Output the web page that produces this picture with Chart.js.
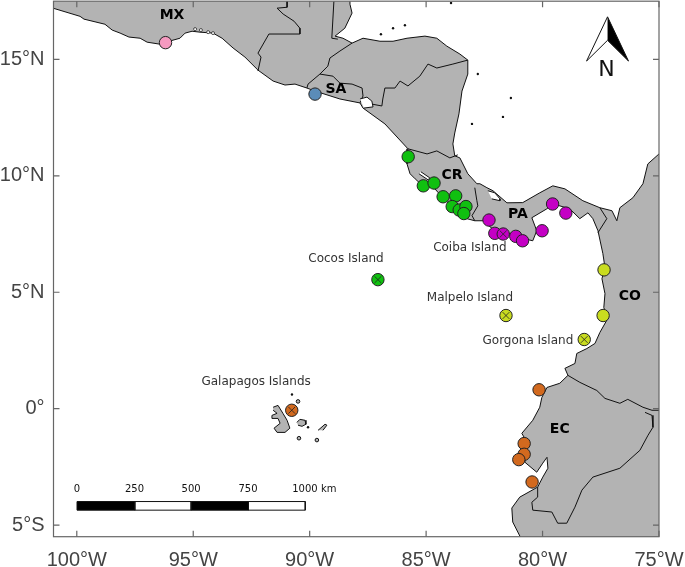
<!DOCTYPE html>
<html>
<head>
<meta charset="utf-8">
<style>
  html, body { margin: 0; padding: 0; background: #fff; overflow: hidden; }
  /* the layout keeps a strip above the y scale, push it out of the window */
  canvas { display: block; margin-top: -6px; }
</style>
<script src="https://cdn.jsdelivr.net/npm/chart.js@4"></script>
</head>
<body>
<canvas id="map" width="685" height="573"></canvas>
<script>
// tick positions and labels
const xTicks = [-100, -95, -90, -85, -80, -75];
const xLabels = ['100°W', '95°W', '90°W', '85°W', '80°W', '75°W'];
const yTicks = [-5, 0, 5, 10, 15];
const yLabels = ['5°S', '0°', '5°N', '10°N', '15°N'];

// sampling sites, [lon, lat]
const sitesMexico = [[-96.19, 15.72]];
const sitesSalvador = [[-89.77, 13.51]];
const sitesCostaRica = [[-85.77, 10.82], [-85.12, 9.57], [-84.66, 9.69], [-84.27, 9.10], [-83.73, 9.14], [-83.88, 8.68], [-83.58, 8.53], [-83.29, 8.68], [-83.38, 8.38], [-87.07, 5.54]];
const sitesPanama = [[-82.30, 8.10], [-82.05, 7.53], [-81.69, 7.50], [-81.15, 7.40], [-80.86, 7.21], [-80.02, 7.64], [-79.57, 8.79], [-79.00, 8.40]];
const sitesColombia = [[-77.36, 5.96], [-77.40, 4.00], [-81.57, 4.00], [-78.21, 2.97]];
const sitesEcuador = [[-80.15, 0.81], [-80.79, -1.50], [-80.79, -1.96], [-81.02, -2.19], [-80.45, -3.15], [-90.77, -0.07]];
// island sites get an x on top
const islandSites = [[-87.07, 5.54], [-81.69, 7.50], [-81.57, 4.00], [-78.21, 2.97], [-90.77, -0.07]];

// land outline, pacific coast then caribbean coast
const mainland = [[-101.15, 17.24], [-99.86, 16.85], [-99.69, 16.73], [-98.79, 16.51], [-98.48, 16.26], [-98.14, 16.13], [-97.76, 15.96], [-97.28, 15.91], [-96.98, 15.74], [-96.47, 15.66], [-95.57, 15.91], [-95.35, 16.13], [-95.05, 16.21], [-94.71, 16.17], [-94.15, 16.13], [-93.76, 15.91], [-93.29, 15.49], [-92.78, 15.10], [-92.22, 14.54], [-91.57, 14.07], [-91.06, 13.90], [-90.63, 13.94], [-90.12, 13.77], [-89.77, 13.64], [-88.70, 13.30], [-87.84, 13.13], [-87.71, 12.91], [-86.77, 12.23], [-85.78, 11.16], [-85.82, 10.51], [-85.69, 10.09], [-85.47, 9.87], [-85.14, 9.57], [-84.67, 9.49], [-84.28, 9.06], [-83.85, 8.63], [-83.25, 8.16], [-82.91, 8.07], [-82.56, 8.07], [-82.05, 7.64], [-81.53, 7.56], [-80.97, 7.34], [-80.42, 7.21], [-80.25, 7.64], [-80.46, 8.20], [-79.82, 8.58], [-79.56, 8.80], [-78.83, 8.58], [-78.40, 8.16], [-78.05, 8.41], [-77.84, 8.16], [-77.62, 7.64], [-77.41, 6.66], [-77.32, 6.06], [-77.45, 5.58], [-77.32, 4.94], [-77.37, 4.34], [-77.20, 3.87], [-77.54, 3.27], [-77.75, 2.80], [-78.10, 2.58], [-78.53, 2.37], [-78.61, 1.94], [-79.04, 1.73], [-78.91, 1.43], [-79.26, 1.09], [-79.81, 0.91], [-80.03, 0.48], [-80.12, 0.06], [-80.42, -0.50], [-80.89, -1.06], [-80.67, -1.44], [-80.76, -2.30], [-80.25, -2.73], [-79.99, -2.34], [-79.81, -2.09], [-79.77, -2.56], [-79.99, -2.94], [-80.21, -3.37], [-80.98, -3.80], [-81.32, -4.27], [-81.28, -4.87], [-80.89, -5.64], [-74.8, -5.7], [-74.8, 10.94], [-75.00, 10.94], [-75.48, 10.51], [-75.69, 9.66], [-76.12, 9.06], [-76.68, 8.63], [-76.81, 8.07], [-77.02, 8.50], [-77.54, 8.63], [-78.27, 8.93], [-79.04, 9.44], [-79.56, 9.57], [-80.12, 9.27], [-80.85, 8.85], [-81.53, 8.84], [-82.13, 9.36], [-82.39, 9.49], [-82.69, 9.66], [-82.82, 9.66], [-83.21, 10.09], [-83.55, 10.77], [-83.77, 10.86], [-83.85, 11.37], [-83.77, 11.84], [-83.59, 12.66], [-83.46, 13.64], [-83.21, 14.37], [-83.21, 14.97], [-83.55, 15.23], [-84.11, 15.57], [-84.54, 15.91], [-85.05, 16.00], [-85.82, 15.91], [-86.42, 15.78], [-86.98, 15.78], [-87.71, 15.91], [-88.18, 15.70], [-88.57, 15.91], [-88.91, 16.00], [-88.49, 16.34], [-88.18, 16.99], [-88.27, 17.37], [-88.27, 17.7], [-101.15, 17.7]];

// country borders
const borderMxGt = [[-90.97, 17.5], [-90.97, 17.24], [-91.40, 17.20], [-91.14, 16.95], [-90.67, 16.64], [-90.42, 16.34], [-90.42, 16.09], [-91.75, 16.09], [-92.22, 15.27], [-92.09, 15.10], [-92.22, 14.50]];
const borderBelize = [[-88.96, 17.5], [-89.05, 15.91], [-88.79, 15.87]];
const borderGtHn = [[-88.18, 15.70], [-88.70, 15.36], [-89.13, 15.06], [-89.22, 14.71], [-89.56, 14.37]];
const borderGtSv = [[-89.56, 14.37], [-90.07, 13.94], [-90.12, 13.77]];
const borderSvHn = [[-89.56, 14.37], [-89.00, 14.28], [-88.70, 13.98], [-88.18, 13.94], [-87.75, 13.77], [-87.71, 13.43], [-87.84, 13.13]];
const borderHnNi = [[-87.33, 13.08], [-86.90, 13.00], [-86.86, 13.30], [-86.77, 13.77], [-86.34, 13.77], [-86.12, 14.07], [-85.78, 13.86], [-85.27, 14.28], [-84.92, 14.80], [-84.54, 14.63], [-83.85, 14.80], [-83.21, 14.97]];
const borderNiCr = [[-85.78, 11.16], [-84.96, 10.94], [-84.54, 11.07], [-83.98, 10.77], [-83.64, 10.90]];
const borderCrPa = [[-82.91, 9.49], [-82.82, 8.93], [-82.78, 8.71], [-83.03, 8.29], [-82.91, 8.07]];
const borderPaCo = [[-77.54, 8.63], [-77.24, 8.16], [-77.62, 7.56]];
const borderCoEc = [[-78.91, 1.43], [-78.40, 1.13], [-77.67, 0.78], [-77.32, 0.44], [-76.68, 0.23], [-76.34, 0.40], [-75.69, 0.06], [-75.30, -0.07], [-74.9, -0.07]];
const borderEcPe = [[-75.60, -0.16], [-75.30, -0.29], [-75.26, -0.80], [-75.47, -1.14], [-75.82, -1.79], [-76.68, -2.56], [-77.84, -2.94], [-78.31, -3.50], [-78.61, -4.23], [-78.96, -4.92], [-79.35, -4.92], [-79.60, -4.44], [-80.42, -4.36], [-80.46, -4.02], [-80.21, -3.80], [-80.21, -3.37]];

// gulfs
const gulfFonseca = [[-87.84, 13.30], [-87.54, 13.38], [-87.33, 13.21], [-87.28, 12.96], [-87.67, 12.91]];
const gulfNicoya = [[-85.22, 10.17], [-84.84, 9.91], [-84.92, 9.83], [-85.31, 10.09]];
const chiriquiLagoon = [[-82.35, 9.36], [-82.05, 9.27], [-81.83, 9.01], [-81.83, 8.93], [-82.18, 9.01]];

// islands
const isabela = [[-91.57, 0.06], [-91.36, 0.14], [-91.15, -0.20], [-90.97, -0.50], [-90.85, -0.84], [-91.06, -1.02], [-91.40, -1.02], [-91.53, -0.84], [-91.27, -0.63], [-91.36, -0.42], [-91.62, -0.42], [-91.62, -0.29], [-91.40, -0.20], [-91.57, -0.07]];
const santaCruz = [[-90.55, -0.59], [-90.42, -0.46], [-90.20, -0.50], [-90.16, -0.67], [-90.33, -0.76], [-90.50, -0.71]];
const sanCristobal = [[-89.64, -0.93], [-89.34, -0.67], [-89.26, -0.71], [-89.43, -0.93]];
const smallIslands = [[-90.46, -1.27], [-90.50, 0.31], [-89.69, -1.35]];
const specks = [[-90.76, 0.61], [-90.07, -0.80], [-86.94, 16.08], [-86.42, 16.34], [-85.91, 16.47], [-82.78, 14.37], [-81.36, 13.34], [-81.70, 12.53], [-83.03, 12.23], [-83.93, 17.42]];
const lagoons = [[-94.92, 16.30], [-94.67, 16.26], [-94.36, 16.17], [-94.15, 16.13]];

// north arrow
const arrowLeft = [[-77.21, 16.83], [-78.11, 14.93], [-77.21, 15.82]];
const arrowRight = [[-77.21, 16.83], [-76.31, 14.93], [-77.21, 15.82]];

// scale bar
const barLon = [-99.99, -97.51, -95.09, -92.63, -90.19];
const barLat = [-3.99, -4.36];
const barLabels = ['0', '250', '500', '750', '1000 km'];
const barLabelLon = [-99.99, -97.52, -95.09, -92.65, -89.80];
const barLabelLat = -3.47;

// text on the map
const countryNames = ['MX', 'SA', 'CR', 'PA', 'CO', 'EC'];
const countryLon = [-95.91, -88.87, -83.89, -81.06, -76.25, -79.26];
const countryLat = [16.90, 13.73, 10.00, 8.33, 4.82, -0.88];
const islandNames = ['Cocos Island', 'Coiba Island', 'Malpelo Island', 'Gorgona Island', 'Galapagos Islands'];
const islandLon = [-88.44, -83.12, -83.12, -80.63, -92.30];
const islandLat = [6.44, 6.91, 4.77, 2.93, 1.17];

const landColor = '#b3b3b3';
const axisColor = '#666666';

function xy(pairs) {
  return pairs.map(p => ({ x: p[0], y: p[1] }));
}

function shape(pairs, fillColor, width) {
  return {
    data: xy(pairs),
    showLine: true,
    fill: 'shape',
    backgroundColor: fillColor,
    borderColor: '#111',
    borderWidth: width,
    pointRadius: 0,
    tension: 0
  };
}

function border(pairs) {
  return { data: xy(pairs), showLine: true, fill: false, borderColor: '#111', borderWidth: 1, pointRadius: 0, tension: 0 };
}

function dots(pairs, color) {
  return {
    data: xy(pairs),
    pointRadius: 6.2,
    pointBackgroundColor: color,
    pointBorderColor: '#222',
    pointBorderWidth: 1
  };
}

function rect(lon0, lon1, color) {
  return shape([[lon0, barLat[0]], [lon1, barLat[0]], [lon1, barLat[1]], [lon0, barLat[1]], [lon0, barLat[0]]], color, 1);
}

// first dataset is painted last, so marks come first
const datasets = [
  { data: xy(islandSites), pointStyle: 'crossRot', pointRadius: 4.8, pointBorderColor: '#222', pointBorderWidth: 0.8 },
  dots(sitesEcuador, '#d2691e'),
  dots(sitesColombia, '#c9dc1f'),
  dots(sitesPanama, '#c400c4'),
  dots(sitesCostaRica, '#10c010'),
  dots(sitesSalvador, '#5b8cb8'),
  dots(sitesMexico, '#f59ac0'),
  shape(arrowRight, '#000', 1),
  shape(arrowLeft, '#fff', 1),
  rect(barLon[0], barLon[1], '#000'),
  rect(barLon[1], barLon[2], '#fff'),
  rect(barLon[2], barLon[3], '#000'),
  rect(barLon[3], barLon[4], '#fff'),
  { data: xy(specks), pointRadius: 1.2, pointBackgroundColor: '#111', pointBorderWidth: 0 },
  { data: xy(smallIslands), pointRadius: 1.8, pointBackgroundColor: landColor, pointBorderColor: '#111', pointBorderWidth: 1 },
  { data: xy(lagoons), pointRadius: 1.5, pointBackgroundColor: '#fff', pointBorderColor: '#111', pointBorderWidth: 0.7 },
  shape(sanCristobal, landColor, 1),
  shape(santaCruz, landColor, 1),
  shape(isabela, landColor, 1),
  shape(chiriquiLagoon, '#fff', 1),
  shape(gulfNicoya, '#fff', 1),
  shape(gulfFonseca, '#fff', 1),
  border(borderEcPe),
  border(borderCoEc),
  border(borderPaCo),
  border(borderCrPa),
  border(borderNiCr),
  border(borderHnNi),
  border(borderSvHn),
  border(borderGtSv),
  border(borderGtHn),
  border(borderBelize),
  border(borderMxGt),
  shape(mainland, landColor, 1)
];

// inward ticks on all four sides and the box round the map
const frame = {
  id: 'frame',
  afterDatasetsDraw(chart) {
    const { ctx, chartArea: a, scales } = chart;
    ctx.save();
    ctx.strokeStyle = axisColor;
    ctx.lineWidth = 1.2;
    ctx.strokeRect(a.left, a.top, a.right - a.left, a.bottom - a.top);
    ctx.beginPath();
    xTicks.forEach(v => {
      const px = scales.x.getPixelForValue(v);
      ctx.moveTo(px, a.bottom); ctx.lineTo(px, a.bottom - 6);
      ctx.moveTo(px, a.top); ctx.lineTo(px, a.top + 6);
    });
    yTicks.forEach(v => {
      const py = scales.y.getPixelForValue(v);
      ctx.moveTo(a.left, py); ctx.lineTo(a.left + 6, py);
      ctx.moveTo(a.right, py); ctx.lineTo(a.right - 6, py);
    });
    ctx.stroke();
    ctx.restore();
  }
};

// labels placed through the scales
const mapText = {
  id: 'mapText',
  afterDraw(chart) {
    const { ctx, scales } = chart;
    ctx.save();
    ctx.textAlign = 'center';
    ctx.textBaseline = 'middle';

    ctx.fillStyle = '#000';
    ctx.font = 'bold 14px "DejaVu Sans"';
    countryNames.forEach((t, i) => {
      ctx.fillText(t, scales.x.getPixelForValue(countryLon[i]), scales.y.getPixelForValue(countryLat[i]));
    });

    ctx.fillStyle = '#333';
    ctx.font = '12px "DejaVu Sans"';
    islandNames.forEach((t, i) => {
      ctx.fillText(t, scales.x.getPixelForValue(islandLon[i]), scales.y.getPixelForValue(islandLat[i]));
    });

    ctx.fillStyle = '#111';
    ctx.font = '10px "DejaVu Sans"';
    barLabels.forEach((t, i) => {
      ctx.fillText(t, scales.x.getPixelForValue(barLabelLon[i]), scales.y.getPixelForValue(barLabelLat));
    });

    ctx.font = '22px "DejaVu Sans"';
    ctx.fillText('N', scales.x.getPixelForValue(-77.25), scales.y.getPixelForValue(14.55));
    ctx.restore();
  }
};

new Chart(document.getElementById('map'), {
  type: 'scatter',
  data: { datasets },
  options: {
    responsive: false,
    animation: false,
    layout: { padding: { top: 0, right: 26, left: 0, bottom: 0 } },
    plugins: { legend: { display: false }, tooltip: { enabled: false } },
    scales: {
      x: {
        min: -101,
        max: -75,
        afterFit(scale) { scale.height = 30.3; scale.paddingRight = 0; scale.paddingLeft = 0; },
        afterBuildTicks(scale) { scale.ticks = xTicks.map(v => ({ value: v })); },
        grid: { display: false, drawTicks: false },
        border: { display: false },
        ticks: {
          autoSkip: false,
          maxRotation: 0,
          padding: 12,
          color: '#444',
          font: { family: '"Liberation Sans"', size: 20 },
          callback(v) { return xLabels[xTicks.indexOf(v)]; }
        }
      },
      y: {
        min: -5.5,
        max: 17.5,
        afterFit(scale) { scale.width = 53.5; scale.paddingTop = 0; scale.paddingBottom = 0; },
        afterBuildTicks(scale) { scale.ticks = yTicks.map(v => ({ value: v })); },
        grid: { display: false, drawTicks: false },
        border: { display: false },
        ticks: {
          autoSkip: false,
          padding: 9,
          color: '#444',
          font: { family: '"Liberation Sans"', size: 20 },
          callback(v) { return yLabels[yTicks.indexOf(v)]; }
        }
      }
    }
  },
  plugins: [frame, mapText]
});
</script>
</body>
</html>
